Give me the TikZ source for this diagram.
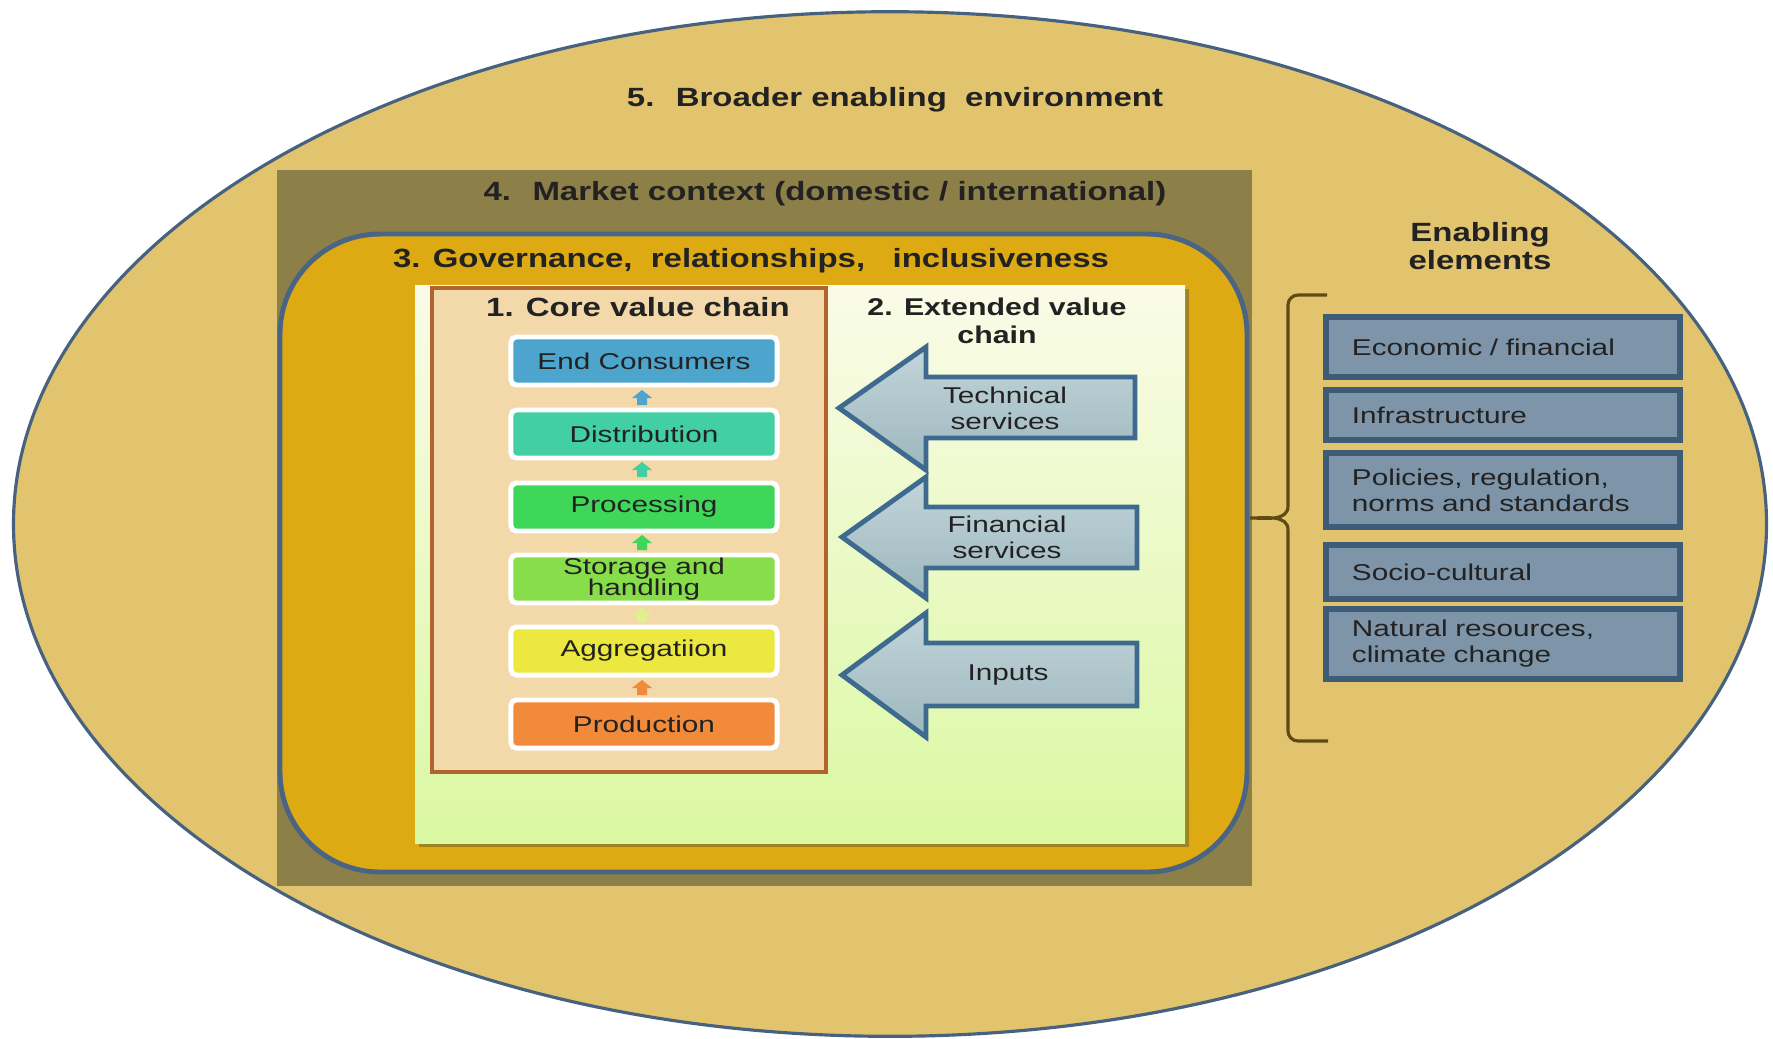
\documentclass[tikz,border=0pt]{standalone}
\usepackage{fontspec}
\setmainfont{Liberation Sans}
\newfontfamily\bodyfont[FakeStretch=1.3]{Liberation Sans}
\newfontfamily\headfont[FakeStretch=1.25]{Liberation Sans}

\definecolor{envfill}{HTML}{E3C46E}
\definecolor{envline}{HTML}{46627F}
\definecolor{marketfill}{HTML}{8D7F48}
\definecolor{govfill}{HTML}{DEAA14}
\definecolor{govline}{HTML}{4A6483}
\definecolor{extop}{HTML}{FAFBE8}
\definecolor{exbot}{HTML}{DAF8A2}
\definecolor{corefill}{HTML}{F3D8AA}
\definecolor{coreline}{HTML}{B1652C}
\definecolor{consumerc}{HTML}{4DA5CD}
\definecolor{distribc}{HTML}{42CFA2}
\definecolor{processc}{HTML}{3ED759}
\definecolor{storagec}{HTML}{88DD4B}
\definecolor{aggregc}{HTML}{ECE83F}
\definecolor{productc}{HTML}{F28A3B}
\definecolor{servtop}{HTML}{C2D5DA}
\definecolor{servbot}{HTML}{9CB7BD}
\definecolor{servline}{HTML}{3E6A8F}
\definecolor{elemfill}{HTML}{7E94A8}
\definecolor{elemline}{HTML}{3E5B78}
\definecolor{bracec}{HTML}{5E4A12}
\definecolor{inkc}{HTML}{222222}

\tikzset{
  heading/.style={font=\headfont\bfseries\fontsize{7.5}{8}\selectfont, text=inkc, align=center, inner sep=0pt},
  stage/.style={draw=white, line width=1.4pt, rounded corners=1.5pt, minimum width=2.66cm,
    minimum height=0.48cm, inner sep=0pt, align=center, text=inkc,
    font=\bodyfont\fontsize{6.5}{6.2}\selectfont},
  service/.style={draw=servline, line width=1.4pt, top color=servtop, bottom color=servbot},
  servtext/.style={font=\bodyfont\fontsize{6.5}{7.4}\selectfont, text=inkc, align=center, inner sep=0pt},
  element/.style={draw=elemline, fill=elemfill, line width=1.7pt, minimum width=3.54cm,
    text width=3.02cm, inner xsep=0.26cm, align=left, text=inkc,
    font=\bodyfont\fontsize{6.5}{7.4}\selectfont}
}

\begin{document}
\begin{tikzpicture}[x=0.01cm, y=-0.01cm]

    \useasboundingbox (0,0) rectangle (1773,1038);
    \fill[white] (0,0) rectangle (1773,1038);

    % 5. environment
    \draw[envline, fill=envfill, line width=0.9pt] (890,524) ellipse [x radius=8.76cm, y radius=5.12cm];
    \node[heading] (env) at (895,100) {5.~ Broader enabling~ environment};

    % 4. market
    \fill[marketfill] (277,170) rectangle (1252,886);
    \node[heading] (market) at (825,194) {4.~ Market context (domestic / international)};

    % 3. governance
    \draw[govline, fill=govfill, line width=1.4pt, rounded corners=1cm] (280,234) rectangle (1247,872);
    \node[heading] (gov) at (751,261) {3. Governance,~ relationships,~~~inclusiveness};

    % 2. extended chain area
    \fill[black!40!olive, opacity=0.5] (419,289) rectangle (1189,847);
    \shade[top color=extop, bottom color=exbot] (415,285) rectangle (1185,843);
    \node[heading, font=\headfont\bfseries\fontsize{6.9}{7.8}\selectfont] (ext) at (997,321) {2. Extended value\\chain};

    % 1. core chain
    \draw[coreline, fill=corefill, line width=1.4pt] (432,288) rectangle (826,772);
    \node[heading] (core) at (638,307) {1. Core value chain};

    \node[stage, fill=consumerc] (consumers) at (644,361) {End Consumers};
    \node[stage, fill=distribc] (distribution) at (644,434) {Distribution};
    \node[stage, fill=processc] (processing) at (644,507) {Processing};
    \node[stage, fill=storagec] (storage) at (644,579) {Storage and\\handling};
    \node[stage, fill=aggregc] (aggregation) at (644,651) {Aggregatiion};
    \node[stage, fill=productc] (production) at (644,724) {Production};

    % small up arrows between the stages
    \fill[consumerc] (637,405) -- ++(0,-7) -- ++(-5,0) -- ++(10,-8) -- ++(10,8) -- ++(-5,0) -- ++(0,7) -- cycle;
    \fill[distribc] (637,477) -- ++(0,-7) -- ++(-5,0) -- ++(10,-8) -- ++(10,8) -- ++(-5,0) -- ++(0,7) -- cycle;
    \fill[processc] (637,550) -- ++(0,-7) -- ++(-5,0) -- ++(10,-8) -- ++(10,8) -- ++(-5,0) -- ++(0,7) -- cycle;
    \fill[aggregc!70!storagec!60!white] (637,622) -- ++(0,-7) -- ++(-5,0) -- ++(10,-8) -- ++(10,8) -- ++(-5,0) -- ++(0,7) -- cycle;
    \fill[productc] (637,695) -- ++(0,-7) -- ++(-5,0) -- ++(10,-8) -- ++(10,8) -- ++(-5,0) -- ++(0,7) -- cycle;

    % service arrows
    \shadedraw[service] (839,408) -- (926,347) -- (926,377) -- (1135,377) -- (1135,438) -- (926,438) -- (926,470) -- cycle;
    \shadedraw[service] (842,537) -- (926,477) -- (926,507) -- (1137,507) -- (1137,568) -- (926,568) -- (926,598) -- cycle;
    \shadedraw[service] (842,675) -- (926,613) -- (926,643) -- (1137,643) -- (1137,706) -- (926,706) -- (926,737) -- cycle;
    \node[servtext] (technical) at (1005,408) {Technical\\services};
    \node[servtext] (financial) at (1007,537) {Financial\\services};
    \node[servtext] (inputs) at (1008,675) {Inputs};

    % enabling elements
    \node[heading] (enabling) at (1480,246) {Enabling\\elements};
    \draw[bracec, line width=0.9pt] (1327,295) -- (1298,295) to[out=180,in=90] (1288,305) -- (1288,506)
        to[out=-90,in=0] (1250,518) to[out=0,in=90] (1288,530) -- (1288,731)
        to[out=-90,in=180] (1298,741) -- (1328,741);

    \node[element, minimum height=0.6cm] (economic) at (1503,347) {Economic / financial};
    \node[element, minimum height=0.5cm] (infra) at (1503,415) {Infrastructure};
    \node[element, minimum height=0.74cm] (policies) at (1503,490) {Policies, regulation,\\norms and standards};
    \node[element, minimum height=0.54cm] (socio) at (1503,572) {Socio-cultural};
    \node[element, minimum height=0.56cm] (natural) at (1503,644) {Natural resources,\\climate change};

\end{tikzpicture}
\end{document}
